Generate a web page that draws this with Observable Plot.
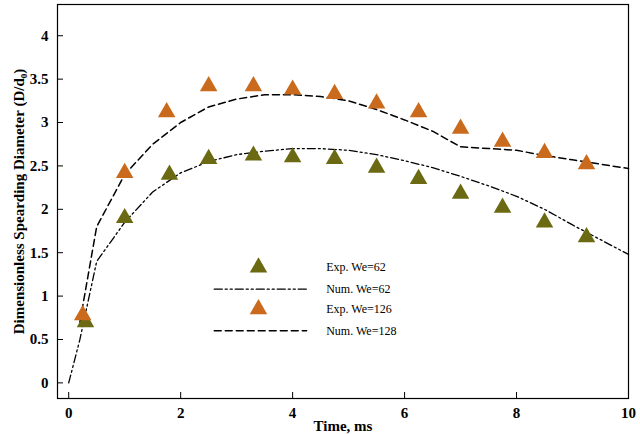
<!DOCTYPE html>
<html><head>
<script src="https://cdn.jsdelivr.net/npm/d3@7"></script>
<script src="https://cdn.jsdelivr.net/npm/@observablehq/plot@0.6"></script>
<style>body{margin:0;background:#fff}</style>
</head><body><div id="c"></div>
<script>
const exp62T=[0.3,1,1.8,2.5,3.3,4,4.75,5.5,6.25,7,7.75,8.5,9.25];
const exp62D=[0.7,1.9,2.4,2.58,2.62,2.6,2.58,2.48,2.35,2.18,2.02,1.85,1.68];
const exp126T=[0.25,1,1.75,2.5,3.3,4,4.75,5.5,6.25,7,7.75,8.5,9.25];
const exp126D=[0.78,2.42,3.12,3.42,3.42,3.38,3.33,3.22,3.12,2.93,2.78,2.65,2.52];
const num62T=[0,0.2,0.5,1,1.5,2,2.5,3,3.5,4,4.5,5,5.5,6,6.5,7,7.5,8,8.5,9,9.5,10];
const num62D=[0,0.5,1.4,1.85,2.2,2.42,2.55,2.63,2.67,2.7,2.7,2.68,2.63,2.56,2.48,2.38,2.27,2.15,2.0,1.82,1.65,1.48];
const num128T=[0.2,0.5,1,1.5,2,2.5,3,3.5,4,4.5,5,5.5,6,6.5,7,7.5,8,8.5,9,9.5,10];
const num128D=[0.7,1.8,2.4,2.75,3.0,3.18,3.27,3.32,3.32,3.3,3.25,3.15,3.03,2.9,2.72,2.7,2.68,2.62,2.57,2.52,2.47];
const legendLabels=["Exp. We=62","Num. We=62","Exp. We=126","Num. We=128"];
const yTicks=[0,0.5,1,1.5,2,2.5,3,3.5,4];
const xTicks=[0,2,4,6,8,10];
const green="#6b6a12", orange="#c96a1c";
const pts=(t,d)=>t.map((x,i)=>({x,y:d[i]}));
const legY=[1.33,1.08,0.85,0.6];
const styles=[{type:"tri",c:green},{type:"line",dash:"8,3,2,3,2,3"},{type:"tri",c:orange},{type:"line",dash:"7,4"}];
const legTri=[], legLines=[];
styles.forEach((s,i)=>{ if(s.type==="tri") legTri.push({x:3.39,y:legY[i],c:s.c}); else legLines.push({i,dash:s.dash,pts:[{x:2.6,y:legY[i]},{x:4.25,y:legY[i]}]}); });
const plot=Plot.plot({
  width:640,height:434,marginLeft:57,marginRight:12,marginTop:4,marginBottom:36,
  style:{fontFamily:"Liberation Serif, serif",fontSize:"13px",color:"#000"},
  x:{domain:[-0.2,10],ticks:xTicks,tickSize:-6,label:"Time, ms",labelAnchor:"center",labelArrow:"none",labelOffset:32},
  y:{domain:[-0.18,4.36],ticks:yTicks,tickSize:-6,tickFormat:d=>String(d),label:"Dimensionless Spearding Diameter (D/d₀)",labelAnchor:"center",labelArrow:"none",labelOffset:44},
  marks:[
    Plot.frame({stroke:"#000",strokeWidth:1.2}),
    Plot.line(pts(num62T,num62D),{x:"x",y:"y",stroke:"#000",strokeWidth:1.3,strokeDasharray:"8,3,2,3,2,3"}),
    Plot.line(pts(num128T,num128D),{x:"x",y:"y",stroke:"#000",strokeWidth:1.5,strokeDasharray:"7,4"}),
    Plot.dot(pts(exp62T,exp62D),{x:"x",y:"y",symbol:"triangle",r:6.5,fill:green,stroke:"none"}),
    Plot.dot(pts(exp126T,exp126D),{x:"x",y:"y",symbol:"triangle",r:6.5,fill:orange,stroke:"none"}),
    Plot.dot(legTri,{x:"x",y:"y",symbol:"triangle",r:6.5,fill:"c",stroke:"none"}),
    ...legLines.map(l=>Plot.line(l.pts,{x:"x",y:"y",stroke:"#000",strokeWidth:1.4,strokeDasharray:l.dash})),
    Plot.text(legendLabels.map((t,i)=>({t,y:legY[i]})),{x:4.6,y:"y",text:"t",textAnchor:"start",fontSize:12})
  ]
});
plot.querySelectorAll('[aria-label$="label"] text').forEach(t=>{t.style.fontWeight="bold";t.style.fontSize="15px";});
document.getElementById("c").appendChild(plot);
</script></body></html>
